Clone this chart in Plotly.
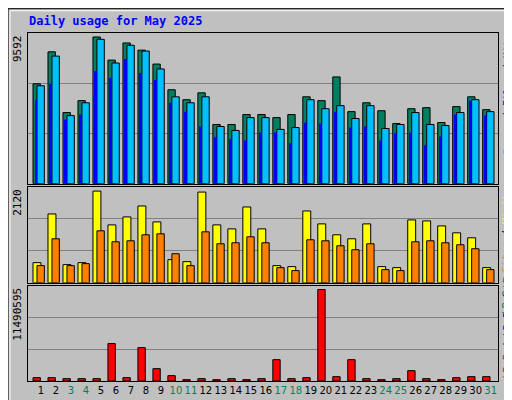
import plotly.graph_objects as go

days = list(range(1, 32))
weekend_days = [3, 4, 10, 11, 17, 18, 24, 25, 31]

hits = [6530, 8620, 4650, 5430, 9592, 8080, 9200, 8730, 7820, 6140, 5490, 5940, 3870, 3870, 4520, 4520,
        4320, 4520, 5680, 5430, 6980, 4710, 5290, 4770, 3930, 4900, 4970, 4000, 5040, 5680, 4840]
files = [6400, 8340, 4450, 5290, 9440, 7890, 9050, 8670, 7500, 5680, 5290, 5680, 3740, 3480, 4320, 4320,
         3550, 3670, 5490, 4900, 5100, 4260, 5100, 3610, 3870, 4650, 3870, 3800, 4650, 5490, 4710]
pages = [5490, 6530, 4190, 4520, 7370, 6910, 8150, 7240, 6780, 5290, 4710, 3740, 3030, 2900, 2830, 3350,
         3350, 2640, 4000, 3930, 4710, 3670, 3740, 2830, 3290, 3350, 2510, 3090, 4520, 5430, 4450]
visits = [467, 1592, 421, 467, 2120, 1339, 1523, 1776, 1408, 536, 490, 2097, 1339, 1247, 1753, 1247,
          398, 375, 1661, 1362, 1110, 1018, 1362, 375, 352, 1454, 1431, 1316, 1156, 1041, 352]
sites = [398, 1018, 398, 444, 1202, 949, 972, 1110, 1133, 673, 398, 1179, 903, 926, 1064, 926,
         352, 283, 995, 972, 857, 765, 903, 306, 283, 949, 972, 926, 880, 788, 306]
kbytes = [419000, 419000, 293000, 293000, 293000, 4700000, 419000, 4190000, 1550000, 671000, 168000,
          293000, 168000, 293000, 168000, 293000, 2680000, 293000, 419000, 11490595, 545000, 2680000,
          293000, 168000, 293000, 1300000, 293000, 168000, 419000, 545000, 545000]

max_hits = 9592
max_visits = 2120
max_kb = 11490595

# axis tops a bit above the max value, like the original image
r1 = max_hits * 152 / 148
r2 = max_visits * 96.7 / 92.4
r3 = max_kb * 285 / 274

line = dict(color='black', width=1)
fig = go.Figure()
fig.add_trace(go.Bar(x=days, y=hits, offset=-0.533, width=0.49, marker=dict(color='#008060', line=line),
                     xaxis='x', yaxis='y'))
fig.add_trace(go.Bar(x=days, y=files, offset=-0.267, width=0.49, marker=dict(color='#00C0FF', line=line),
                     xaxis='x', yaxis='y'))
fig.add_trace(go.Bar(x=days, y=pages, offset=-0.4, width=0.13, marker=dict(color='#0000FF', line=dict(width=0)),
                     xaxis='x', yaxis='y'))
fig.add_trace(go.Bar(x=days, y=visits, offset=-0.533, width=0.53, marker=dict(color='#FFFF00', line=line),
                     xaxis='x2', yaxis='y2'))
fig.add_trace(go.Bar(x=days, y=sites, offset=-0.267, width=0.49, marker=dict(color='#FF8000', line=line),
                     xaxis='x2', yaxis='y2'))
fig.add_trace(go.Bar(x=days, y=kbytes, offset=-0.533, width=0.49, marker=dict(color='#FF0000', line=line),
                     xaxis='x3', yaxis='y3'))

font = dict(family='DejaVu Sans Mono', size=11, color='black')
side_font = dict(family='DejaVu Sans Mono', size=10, color='black')
tick_font = dict(family='DejaVu Sans', size=10, color='black')
ticktext = [f'<span style="color:#00805C">{d}</span>' if d in weekend_days else str(d) for d in days]
xrange = [0.133, 31.49]
ax_common = dict(range=xrange, showgrid=False, zeroline=False, showline=True, linecolor='black',
                 mirror=True, fixedrange=True)
ay_common = dict(showgrid=True, gridcolor='#808080', gridwidth=1, zeroline=False, showline=True,
                 linecolor='black', mirror=True, showticklabels=False, ticks='')

fig.update_layout(
    width=512, height=400,
    margin=dict(l=20, r=22, t=25, b=24),
    paper_bgcolor='#C0C0C0', plot_bgcolor='#C0C0C0',
    showlegend=False, barmode='overlay', font=font,
    xaxis=dict(ax_common, anchor='y', showticklabels=False),
    xaxis2=dict(ax_common, anchor='y2', showticklabels=False),
    xaxis3=dict(ax_common, anchor='y3', tickvals=days, ticktext=ticktext, ticks='', tickfont=tick_font,
                tickangle=0),
    yaxis=dict(ay_common, domain=[0.567, 1.0], range=[0, r1], tickvals=[r1 / 3, 2 * r1 / 3]),
    yaxis2=dict(ay_common, domain=[0.282, 0.558], range=[0, r2], tickvals=[r2 / 3, 2 * r2 / 3]),
    yaxis3=dict(ay_common, domain=[0.0, 0.2735], range=[0, r3], tickvals=[r3 / 3, 2 * r3 / 3]),
)

annotations = [
    dict(text='<b>Daily usage for May 2025</b>', x=-0.002, y=1.0, yanchor='bottom', xanchor='left',
         yshift=3, font=dict(family='DejaVu Sans Mono', size=12, color='#0000FF')),
    dict(text=str(max_hits), x=0, xanchor='right', xshift=-2, y=1.0, yanchor='top', textangle=-90),
    dict(text=str(max_visits), x=0, xanchor='right', xshift=-2, y=0.558, yanchor='top', textangle=-90),
    dict(text=str(max_kb), x=0, xanchor='right', xshift=-2, y=0.2735, yanchor='top', textangle=-90),
    dict(text='<span style="color:#00C0FF">Pages</span> / <span style="color:#0000FF">Files</span>'
              ' / <span style="color:#008060">Hits</span>',
         x=1, xanchor='left', xshift=1, y=1.0, yanchor='top', textangle=-90, font=side_font),
    dict(text='<span style="color:#008060">kB Out</span> <span style="color:#FF8000">Sites</span>'
              ' / <span style="color:#FFFF00">Visits</span>',
         x=1, xanchor='left', xshift=1, y=0.558, yanchor='top', textangle=-90, font=side_font),
    dict(text='<span style="color:#FF0000">kB F</span> / <span style="color:#0000FF">kB In</span>'
              ' / <span style="color:#008060">kB</span>',
         x=1, xanchor='left', xshift=1, y=0.0, yanchor='bottom', textangle=-90, font=side_font),
]
for a in annotations:
    a.update(xref='paper', yref='paper', showarrow=False)
    a.setdefault('font', font)
fig.update_layout(annotations=annotations)

# outer 3d frame of the image
fig.add_shape(type='rect', xref='paper', yref='paper', x0=-20 / 470, x1=491 / 470, y0=-23.5 / 351,
              y1=(351 + 24.5) / 351, line=dict(color='black', width=1))
fig.add_shape(type='rect', xref='paper', yref='paper', x0=-18 / 470, x1=489 / 470, y0=-21.5 / 351,
              y1=(351 + 22.5) / 351, line=dict(color='white', width=1))

fig.write_html("out.html")
